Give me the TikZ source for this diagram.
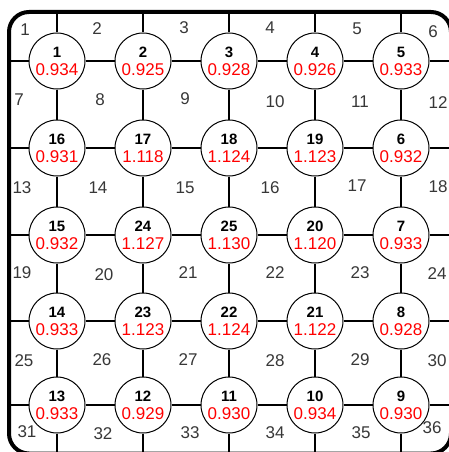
\documentclass[tikz,border=0pt]{standalone}
\usepackage{fontspec}
\setmainfont{Liberation Sans}
\usetikzlibrary{calc}
\definecolor{cellgray}{RGB}{55,55,55}
\definecolor{valred}{RGB}{255,0,0}
\begin{document}
\begin{tikzpicture}[x=1pt,y=-1pt,
  nd/.style={circle,draw,line width=1pt,fill=white,minimum size=56pt,inner sep=0pt},
  gridline/.style={line width=1.1pt},
  gridbold/.style={line width=2pt},
  frame/.style={line width=4pt,rounded corners=20pt},
  cell/.style={text=cellgray,font=\fontsize{17}{17}\selectfont,inner sep=0pt},
  idx/.style={font=\fontsize{15}{15}\selectfont\bfseries,inner sep=0pt},
  val/.style={text=valred,font=\fontsize{17}{17}\selectfont,inner sep=0pt}]
\useasboundingbox (0,0) rectangle (449,452);
\clip (0,0) rectangle (449,452);
% grid nodes
\foreach \r/\y in {1/61,2/148,3/235,4/321,5/405}{
  \foreach \c/\x in {1/57,2/143,3/229,4/315,5/401}{
    \node[nd] (p\r\c) at (\x,\y) {};
  }
}
% border coordinates
\foreach \c/\x in {1/57,2/143,3/229,4/315,5/401}{
  \coordinate (t\c) at (\x,12);
  \coordinate (b\c) at (\x,452);
}
\foreach \r/\y in {1/61,2/148,3/235,4/321,5/405}{
  \coordinate (l\r) at (9,\y);
  \coordinate (rr\r) at (449,\y);
}
% connectors
\foreach \r in {1,...,5}{
  \foreach \c/\d in {1/2,2/3,3/4,4/5}{
    \draw[gridline] (p\r\c) -- (p\r\d);
  }
  \draw[gridline] (l\r) -- (p\r1);
  \draw[gridline] (p\r5) -- (rr\r);
}
\foreach \c in {1,...,5}{
  \foreach \r/\s in {1/2,2/3,3/4,4/5}{
    \draw[gridline] (p\r\c) -- (p\s\c);
  }
  \draw[gridline] (t\c) -- (p1\c);
  \draw[gridline] (p5\c) -- (b\c);
}
\draw[gridbold] (p11) -- (p12);
\draw[gridbold] (p11) -- (p21);
% node texts
\foreach \r/\c/\i/\v in {
  1/1/1/0.934, 1/2/2/0.925, 1/3/3/0.928, 1/4/4/0.926, 1/5/5/0.933,
  2/1/16/0.931, 2/2/17/1.118, 2/3/18/1.124, 2/4/19/1.123, 2/5/6/0.932,
  3/1/15/0.932, 3/2/24/1.127, 3/3/25/1.130, 3/4/20/1.120, 3/5/7/0.933,
  4/1/14/0.933, 4/2/23/1.123, 4/3/22/1.124, 4/4/21/1.122, 4/5/8/0.928,
  5/1/13/0.933, 5/2/12/0.929, 5/3/11/0.930, 5/4/10/0.934, 5/5/9/0.930}{
  \node[idx] (i\r\c) at ($(p\r\c)+(0,-9)$) {\i};
  \node[val] (v\r\c) at ($(p\r\c)+(0,9)$) {\v};
}
% cell labels
\foreach \x/\y/\t in {
  25/30/1, 97/29/2, 184/28/3, 270/28/4, 357/29/5, 433/32/6,
  19/100/7, 100/100/8, 185/99/9, 275/102/10, 360/102/11, 438/103/12,
  22/188/13, 98/188/14, 185/188/15, 270/188/16, 357/186/17, 438/187/18,
  22/273/19, 104/275/20, 188/273/21, 275/273/22, 360/273/23, 437/274/24,
  24/361/25, 102/360/26, 188/360/27, 275/361/28, 360/360/29, 437/361/30,
  27/432/31, 103/434/32, 190/433/33, 275/433/34, 361/433/35, 432/428/36}{
  \node[cell] (c\t) at (\x,\y) {\t};
}
% frame
\draw[frame] (9,12) rectangle (451,453.5);
\end{tikzpicture}
\end{document}
